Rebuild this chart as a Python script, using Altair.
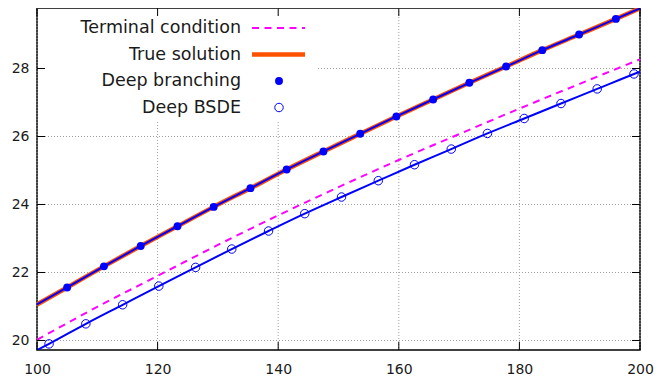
import altair as alt
import pandas as pd

# ---- data ----
x_ticks = [100, 120, 140, 160, 180, 200]
y_ticks = [20, 22, 24, 26, 28]

terminal_x = [100, 110, 120, 130, 140, 150, 160, 170, 180, 190, 200]
terminal_y = [20.02, 20.99, 21.90, 22.81, 23.68, 24.51, 25.31, 26.07, 26.82, 27.55, 28.27]

true_x = [100, 105.0, 111.1, 117.2, 123.3, 129.3, 135.4, 141.4, 147.5, 153.6,
          159.6, 165.7, 171.7, 177.8, 183.8, 189.9, 196.0, 200]
true_y = [21.06, 21.56, 22.18, 22.78, 23.36, 23.93, 24.48, 25.03, 25.56, 26.08,
          26.59, 27.09, 27.58, 28.06, 28.54, 29.00, 29.46, 29.77]

branch_x = [105.0, 111.1, 117.2, 123.3, 129.3, 135.4, 141.4, 147.5, 153.6,
            159.6, 165.7, 171.7, 177.8, 183.8, 189.9, 196.0]
branch_y = [21.56, 22.18, 22.78, 23.36, 23.93, 24.48, 25.03, 25.56, 26.08,
            26.59, 27.09, 27.58, 28.06, 28.54, 29.00, 29.46]

bsde_line_x = [100, 102.0, 108.1, 114.2, 120.2, 126.3, 132.3, 138.4, 144.4, 150.5,
               156.6, 162.6, 168.7, 174.7, 180.8, 186.9, 192.9, 199.0, 200]
bsde_line_y = [19.72, 19.90, 20.49, 21.05, 21.60, 22.15, 22.69, 23.22, 23.73, 24.22,
               24.70, 25.17, 25.63, 26.09, 26.53, 26.97, 27.40, 27.84, 27.91]

bsde_x = [102.0, 108.1, 114.2, 120.2, 126.3, 132.3, 138.4, 144.4, 150.5,
          156.6, 162.6, 168.7, 174.7, 180.8, 186.9, 192.9, 199.0]
bsde_y = [19.90, 20.49, 21.05, 21.60, 22.15, 22.69, 23.22, 23.73, 24.22,
          24.70, 25.17, 25.63, 26.09, 26.53, 26.97, 27.40, 27.84]

legend_labels = ["Terminal condition", "True solution", "Deep branching", "Deep BSDE"]

# ---- style ----
W, H = 603, 342
FONT = "DejaVu Sans"
BLUE = "#0000ff"
MAGENTA = "#ff00ff"
ORANGE = "#ff5000"
GRID = "#a0a0a0"
TEXT = "#1a1a1a"

xs = alt.Scale(domain=[100, 200], nice=False, zero=False)
ys = alt.Scale(domain=[19.72, 29.78], nice=False, zero=False)
xax = alt.Axis(values=x_ticks, domain=False, ticks=False, grid=False, labelFont=FONT,
               labelFontSize=14, labelColor=TEXT, labelPadding=12, labelFlush=False, title=None)
yax = alt.Axis(values=y_ticks, domain=False, ticks=False, grid=False, labelFont=FONT,
               labelFontSize=14, labelColor=TEXT, labelPadding=8, labelFlush=False, title=None)


def X():
    return alt.X("x:Q", scale=xs, axis=xax)


def Y():
    return alt.Y("y:Q", scale=ys, axis=yax)


df_xt = pd.DataFrame({"x": x_ticks})
df_yt = pd.DataFrame({"y": y_ticks})
one = pd.DataFrame({"a": [0]})

grid_x = alt.Chart(df_xt).mark_rule(color=GRID, strokeDash=[1, 2], strokeWidth=1).encode(x=X())
grid_y = alt.Chart(df_yt).mark_rule(color=GRID, strokeDash=[1, 2], strokeWidth=1).encode(y=Y())

legend_box = alt.Chart(one).mark_rect(color="white").encode(
    x=alt.value(1), x2=alt.value(279), y=alt.value(1), y2=alt.value(112))

terminal = alt.Chart(pd.DataFrame({"x": terminal_x, "y": terminal_y})).mark_line(
    color=MAGENTA, strokeWidth=2, strokeDash=[7, 5.5], interpolate="monotone", clip=True
).encode(x=X(), y=Y())

true_sol = alt.Chart(pd.DataFrame({"x": true_x, "y": true_y})).mark_line(
    color=ORANGE, strokeWidth=4.5, interpolate="monotone", clip=True
).encode(x=X(), y=Y())

branch_line = alt.Chart(pd.DataFrame({"x": true_x, "y": true_y})).mark_line(
    color=BLUE, strokeWidth=2, interpolate="monotone", clip=True
).encode(x=X(), y=Y())

bsde_line = alt.Chart(pd.DataFrame({"x": bsde_line_x, "y": bsde_line_y})).mark_line(
    color=BLUE, strokeWidth=2, interpolate="monotone", clip=True
).encode(x=X(), y=Y())

branch_pts = alt.Chart(pd.DataFrame({"x": branch_x, "y": branch_y})).mark_point(
    shape="circle", filled=True, color=BLUE, size=62, opacity=1
).encode(x=X(), y=Y())

bsde_pts = alt.Chart(pd.DataFrame({"x": bsde_x, "y": bsde_y})).mark_point(
    shape="circle", filled=False, color=BLUE, size=72, strokeWidth=1, opacity=1
).encode(x=X(), y=Y())

tick_style = dict(color="black", strokeWidth=1)
ticks_bottom = alt.Chart(df_xt).mark_rule(**tick_style).encode(x=X(), y=alt.value(H), y2=alt.value(H - 8))
ticks_top = alt.Chart(df_xt).mark_rule(**tick_style).encode(x=X(), y=alt.value(0), y2=alt.value(8))
ticks_left = alt.Chart(df_yt).mark_rule(**tick_style).encode(y=Y(), x=alt.value(0), x2=alt.value(8))
ticks_right = alt.Chart(df_yt).mark_rule(**tick_style).encode(y=Y(), x=alt.value(W - 8), x2=alt.value(W))

# ---- legend ----
rows = [20, 46.5, 73, 99.5]
leg = []
for lab, ry in zip(legend_labels, rows):
    leg.append(alt.Chart(one).mark_text(text=lab, align="right", baseline="middle", font=FONT,
                                        fontSize=17.5, color=TEXT).encode(x=alt.value(204), y=alt.value(ry)))
leg.append(alt.Chart(one).mark_rule(color=MAGENTA, strokeWidth=2, strokeDash=[7, 5.5]).encode(
    x=alt.value(215), x2=alt.value(268), y=alt.value(rows[0])))
leg.append(alt.Chart(one).mark_rule(color=ORANGE, strokeWidth=4.5).encode(
    x=alt.value(215), x2=alt.value(268), y=alt.value(rows[1])))
leg.append(alt.Chart(one).mark_point(shape="circle", filled=True, color=BLUE, size=62, opacity=1).encode(
    x=alt.value(242), y=alt.value(rows[2])))
leg.append(alt.Chart(one).mark_point(shape="circle", filled=False, color=BLUE, size=72, strokeWidth=1,
                                     opacity=1).encode(x=alt.value(242), y=alt.value(rows[3])))

chart = alt.layer(
    grid_x, grid_y, legend_box, terminal, true_sol, branch_line, bsde_line,
    branch_pts, bsde_pts, ticks_bottom, ticks_top, ticks_left, ticks_right, *leg
).properties(
    width=W, height=H,
    autosize=alt.AutoSizeParams(type="none"),
    padding={"left": 29, "top": 0, "right": 15, "bottom": 25},
    background="white",
).configure_view(stroke="black", strokeWidth=1.5)

chart.save("out.html", embed_options={"renderer": "svg", "actions": False})
